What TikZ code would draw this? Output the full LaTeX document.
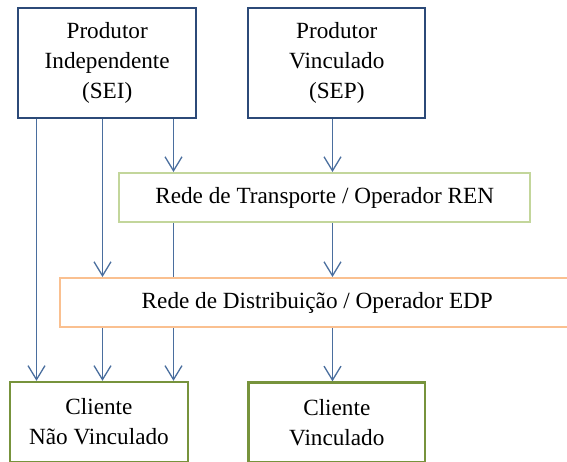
\documentclass[tikz,border=0pt]{standalone}
\usepackage{fontspec}
\setmainfont{Liberation Serif}
\usetikzlibrary{arrows.meta}
\definecolor{navy}{HTML}{2C4A78}
\definecolor{arrowblue}{HTML}{4A6E9E}
\definecolor{rengreen}{HTML}{C3D69B}
\definecolor{edporange}{HTML}{FAC090}
\definecolor{cliolive}{HTML}{77933C}
\tikzset{
  txt/.style={font=\fontsize{23.2}{30}\selectfont, align=center, inner sep=0pt},
  prodbox/.style={txt, draw=navy, line width=2pt, fill=white, minimum width=177.6pt, minimum height=110pt},
  renbox/.style={txt, draw=rengreen, line width=2pt, fill=white, minimum width=410.8pt, minimum height=49pt},
  edpbox/.style={draw=edporange, line width=2pt, fill=white, minimum width=560pt, minimum height=49pt, inner sep=0pt},
  clibox/.style={txt, draw=cliolive, line width=2.3pt, fill=white, minimum width=177.6pt, minimum height=80pt},
  conn/.style={draw=arrowblue, line width=1.3pt},
  arr/.style={conn, -{Straight Barb[length=14pt,width=17pt,line width=1.3pt]}},
}
\begin{document}
\begin{tikzpicture}[x=1pt,y=-1pt]
\useasboundingbox (0,0) rectangle (567,461);
\clip (0,0) rectangle (567,461);
\node[prodbox] (sei) at (107.2,62.5) {Produtor\\Independente\\(SEI)};
\node[prodbox, minimum width=176.8pt] (sep) at (336.8,63) {Produtor\\Vinculado\\(SEP)};
\node[renbox] (ren) at (324.7,197.5) {Rede de Transporte / Operador REN};
\node[edpbox] (edp) at (339.7,302.5) {};
\node[txt] (edptext) at (317.3,302.5) {Rede de Distribuição / Operador EDP};
\node[clibox, minimum width=178.2pt] (cnv) at (98.9,422) {Cliente\\Não Vinculado};
\node[clibox, minimum width=176.8pt] (cv) at (336.8,422.5) {Cliente\\Vinculado};
\coordinate (c1) at (36.5,0);
\coordinate (c2) at (102.5,0);
\coordinate (c3) at (173.5,0);
\coordinate (c4) at (332.5,0);
\draw[arr] (sei.south -| c1) -- (cnv.north -| c1);
\draw[arr] (sei.south -| c2) -- (edp.north -| c2);
\draw[arr] (edp.south -| c2) -- (cnv.north -| c2);
\draw[arr] (sei.south -| c3) -- (ren.north -| c3);
\draw[conn] (ren.south -| c3) -- (edp.north -| c3);
\draw[arr] (edp.south -| c3) -- (cnv.north -| c3);
\draw[arr] (sep.south -| c4) -- (ren.north -| c4);
\draw[arr] (ren.south -| c4) -- (edp.north -| c4);
\draw[arr] (edp.south -| c4) -- (cv.north -| c4);
\end{tikzpicture}
\end{document}
